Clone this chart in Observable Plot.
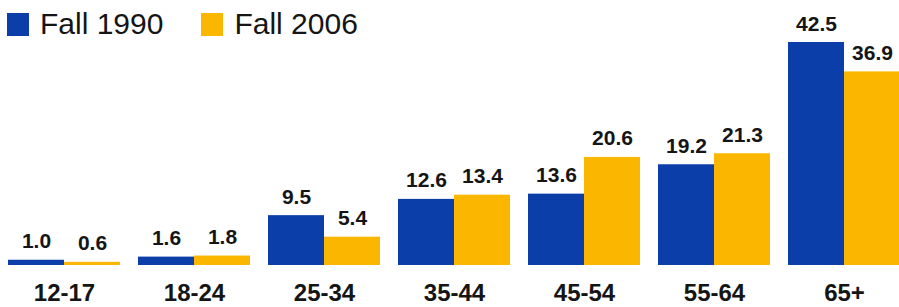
<!DOCTYPE html>
<html>
<head>
<meta charset="utf-8">
<script src="https://cdn.jsdelivr.net/npm/d3@7"></script>
<script src="https://cdn.jsdelivr.net/npm/@observablehq/plot@0.6"></script>
<style>
  html, body { margin: 0; padding: 0; background: #fff; }
  #wrap { position: relative; width: 899px; height: 307px; overflow: hidden; font-family: "Liberation Sans", Arial, sans-serif; }
  #legend { position: absolute; left: 7px; top: 11px; display: flex; align-items: center; z-index: 2; }
  .item { display: flex; align-items: center; margin-right: 38px; }
  .sw { width: 22px; height: 23px; margin-right: 11px; }
  .lab { font-size: 30px; color: #151515; line-height: 26px; }
</style>
</head>
<body>
<div id="wrap"><div id="legend"></div><div id="chart"></div></div>
<script>
const ages = ["12-17", "18-24", "25-34", "35-44", "45-54", "55-64", "65+"];
const fall1990 = [1.0, 1.6, 9.5, 12.6, 13.6, 19.2, 42.5];
const fall2006 = [0.6, 1.8, 5.4, 13.4, 20.6, 21.3, 36.9];
const seriesNames = ["Fall 1990", "Fall 2006"];
const colors = ["#0b3ea8", "#fbb700"];

const data = ages.flatMap((a, i) => [
  {age: a, series: seriesNames[0], value: fall1990[i]},
  {age: a, series: seriesNames[1], value: fall2006[i]}
]);

const legend = document.getElementById("legend");
seriesNames.forEach((s, i) => {
  const it = document.createElement("div");
  it.className = "item";
  const sw = document.createElement("div");
  sw.className = "sw";
  sw.style.background = colors[i];
  const lb = document.createElement("span");
  lb.className = "lab";
  lb.textContent = s;
  it.appendChild(sw); it.appendChild(lb);
  legend.appendChild(it);
});

const chart = Plot.plot({
  width: 899,
  height: 307,
  marginLeft: 5,
  marginRight: -3,
  marginTop: 42,
  marginBottom: 42,
  style: {fontFamily: '"Liberation Sans", Arial, sans-serif', background: "#fff"},
  fx: {domain: ages, paddingInner: 0.142, paddingOuter: 0, axis: null},
  x: {domain: seriesNames, padding: 0, axis: null},
  y: {domain: [0, 42.5], axis: null},
  color: {domain: seriesNames, range: colors},
  marks: [
    Plot.barY(data, {fx: "age", x: "series", y: "value", fill: "series"}),
    Plot.text(data, {fx: "age", x: "series", y: "value", text: d => d.value.toFixed(1),
      lineAnchor: "bottom", dy: -12, fontSize: 21, fontWeight: "bold", fill: "#151515"}),
    Plot.text(ages, {fx: d => d, text: d => d, frameAnchor: "bottom", dy: 28,
      lineAnchor: "middle", fontSize: 24, fontWeight: "bold", fill: "#151515"})
  ]
});
document.getElementById("chart").appendChild(chart);
</script>
</body>
</html>
